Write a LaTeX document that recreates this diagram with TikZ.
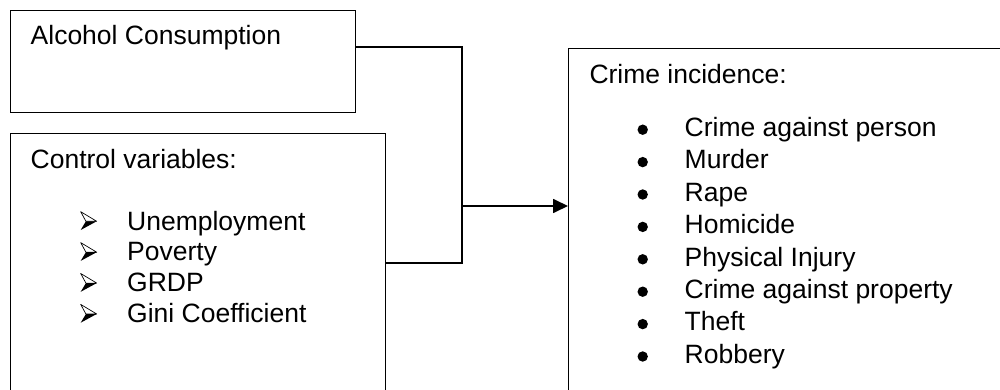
\documentclass[tikz,border=0pt]{standalone}
\usepackage{fontspec}
\setmainfont{Liberation Sans}
\usetikzlibrary{arrows.meta}

\tikzset{
    frame/.style={draw, line width=1pt, inner sep=0pt, anchor=north west},
    link/.style={line width=1.7pt},
    entry/.style={anchor=base west, inner sep=0pt},
    pics/arrowmark/.style={code={
        \draw[line width=0.7pt, fill=white, line join=round] (0,0) -- (16,9.6) -- (5.2,9.6) -- cycle;
        \fill (5.2,9.6) -- (16,9.6) -- (0,18.3) -- cycle;
    }}
}

\begin{document}
\begin{tikzpicture}[x=1pt, y=-1pt, font=\fontsize{26.5}{31}\selectfont]
    \useasboundingbox (0,0) rectangle (1000,390);
    \clip (0,0) rectangle (1000,390);

    % Boxes
    \node[frame, minimum width=345.5pt, minimum height=101.7pt] (alcohol) at (9.5,10) {};
    \node[frame, minimum width=375.5pt, minimum height=300pt] (control) at (9.5,133) {};
    \node[frame, minimum width=500pt, minimum height=400pt] (crime) at (568,48) {};

    % Headings
    \node[entry] (alcoholtext) at (30.5,45) {Alcohol Consumption};
    \node[entry] (controltext) at (30.5,168) {Control variables:};
    \node[entry] (crimetext) at (589.3,83.3) {Crime incidence:};

    % Control variables
    \foreach \name [count=\i] in {Unemployment, Poverty, GRDP, Gini Coefficient} {
        \pgfmathsetmacro{\yb}{230 + 30.9*(\i-1)}
        \pic at (80.7,\yb-18.3) {arrowmark};
        \node[entry] (ctrl\i) at (127,\yb) {\name};
    }

    % Crime types
    \foreach \name [count=\i] in {Crime against person, Murder, Rape, Homicide,
        Physical Injury, Crime against property, Theft, Robbery} {
        \pgfmathsetmacro{\yb}{136.5 + 32.4*(\i-1)}
        \fill (642.7,\yb-6.8) circle (5.2pt);
        \node[entry] (crime\i) at (684.5,\yb) {\name};
    }

    % Connectors
    \coordinate (split) at (461.7,206);
    \coordinate (lower) at (control.east |- 0,263.3);
    \draw[link] ([yshift=-37.3pt]alcohol.north east) -| (split) |- (lower);
    \draw[link, -{Triangle[length=15pt, width=14pt]}] (split) -- (crime.west |- split);
\end{tikzpicture}
\end{document}
